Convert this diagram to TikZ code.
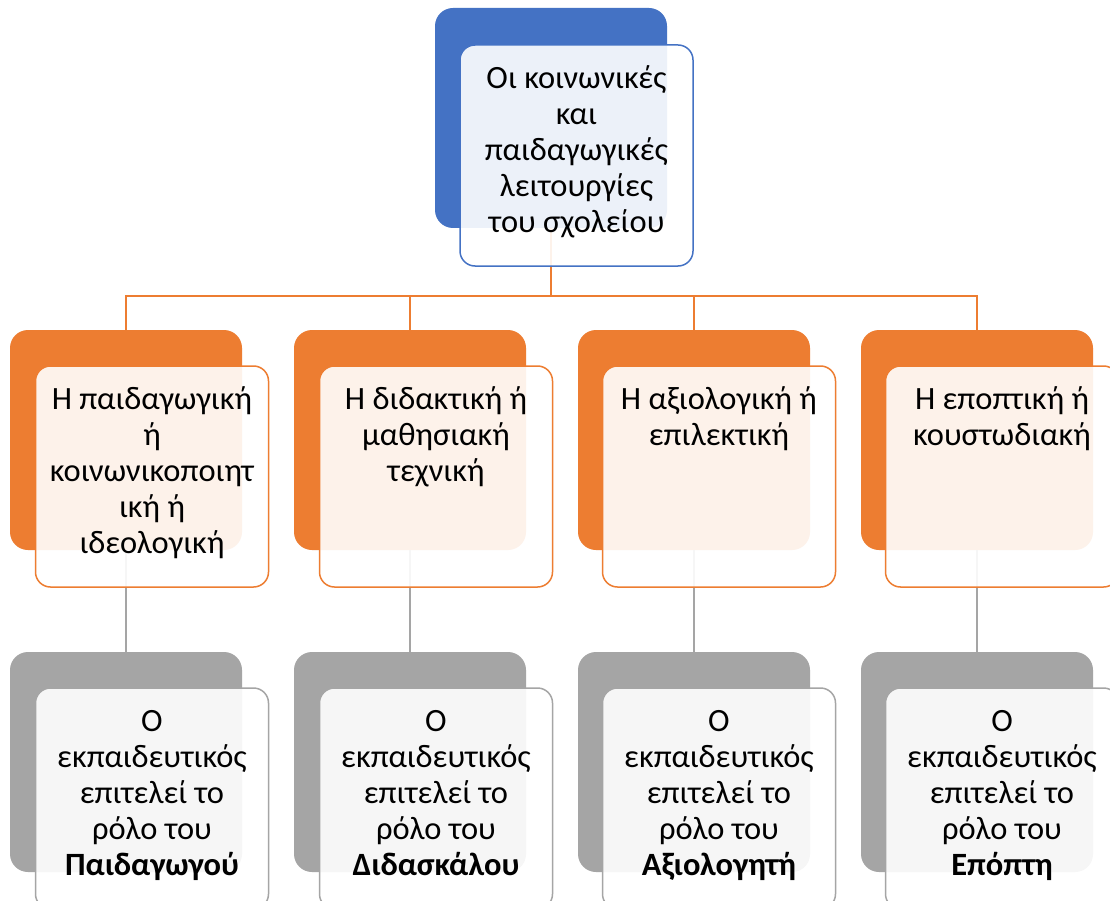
\documentclass[tikz,border=0pt]{standalone}
\usepackage{fontspec}
\setmainfont{Carlito}
\definecolor{cblue}{HTML}{4472C4}
\definecolor{corange}{HTML}{ED7D31}
\definecolor{cgray}{HTML}{A5A5A5}
\tikzset{
  backbox/.style={draw=none, fill=#1, rounded corners=18pt, minimum width=232pt, minimum height=220pt, inner sep=0pt},
  frontbox/.style={draw=#1, line width=1.5pt, fill=white, fill opacity=0.9, rounded corners=15pt, minimum width=233pt, minimum height=221pt, inner sep=0pt},
  label/.style={anchor=north, inner sep=0pt, align=center, text=black, font=\fontsize{32.5}{36}\selectfont},
  orangeline/.style={draw=corange, line width=2pt},
  grayline/.style={draw=cgray, line width=2pt}
}
\begin{document}
\begin{tikzpicture}[x=1pt,y=-1pt]
\useasboundingbox (0,0) rectangle (1110,901);
\clip (0,0) rectangle (1110,901);
\fill[white] (0,0) rectangle (1110,901);
% back boxes
\node[backbox=cblue] (tb) at (551,118) {};
\node[backbox=corange] (b1) at (126,440) {};
\node[backbox=corange] (b2) at (410,440) {};
\node[backbox=corange] (b3) at (694,440) {};
\node[backbox=corange] (b4) at (977,440) {};
\node[backbox=cgray] (g1) at (126,762) {};
\node[backbox=cgray] (g2) at (410,762) {};
\node[backbox=cgray] (g3) at (694,762) {};
\node[backbox=cgray] (g4) at (977,762) {};
% connectors
\coordinate (bus) at (0,296);
\foreach \i in {1,2,3,4}{
  \draw[orangeline] (tb.south) -- (tb.south |- bus) -| (b\i.north);
  \draw[grayline] (b\i.south) -- (g\i.north);
}
% front boxes
\node[frontbox=cblue] (tf) at (576.5,155.5) {};
\node[frontbox=corange] (f1) at (152,476.5) {};
\node[frontbox=corange] (f2) at (436,476.5) {};
\node[frontbox=corange] (f3) at (719,476.5) {};
\node[frontbox=corange] (f4) at (1002,476.5) {};
\node[frontbox=cgray] (h1) at (152,798.5) {};
\node[frontbox=cgray] (h2) at (436,798.5) {};
\node[frontbox=cgray] (h3) at (719,798.5) {};
\node[frontbox=cgray] (h4) at (1002,798.5) {};
% labels
\node[label] (tt) at ([yshift=-19pt]tf.north) {\strut Οι κοινωνικές\\και\\παιδαγωγικές\\λειτουργίες\\του σχολείου};
\node[label] (t1) at ([yshift=-19pt]f1.north) {\strut Η παιδαγωγική\\ή\\κοινωνικοποιητ\\ική ή\\ιδεολογική};
\node[label] (t2) at ([yshift=-19pt]f2.north) {\strut Η διδακτική ή\\μαθησιακή\\τεχνική};
\node[label] (t3) at ([yshift=-19pt]f3.north) {\strut Η αξιολογική ή\\επιλεκτική};
\node[label] (t4) at ([yshift=-19pt]f4.north) {\strut Η εποπτική ή\\κουστωδιακή};
\node[label] (s1) at ([yshift=-19pt]h1.north) {\strut Ο\\εκπαιδευτικός\\επιτελεί το\\ρόλο του\\\textbf{Παιδαγωγού}};
\node[label] (s2) at ([yshift=-19pt]h2.north) {\strut Ο\\εκπαιδευτικός\\επιτελεί το\\ρόλο του\\\textbf{Διδασκάλου}};
\node[label] (s3) at ([yshift=-19pt]h3.north) {\strut Ο\\εκπαιδευτικός\\επιτελεί το\\ρόλο του\\\textbf{Αξιολογητή}};
\node[label] (s4) at ([yshift=-19pt]h4.north) {\strut Ο\\εκπαιδευτικός\\επιτελεί το\\ρόλο του\\\textbf{Επόπτη}};
\end{tikzpicture}
\end{document}
